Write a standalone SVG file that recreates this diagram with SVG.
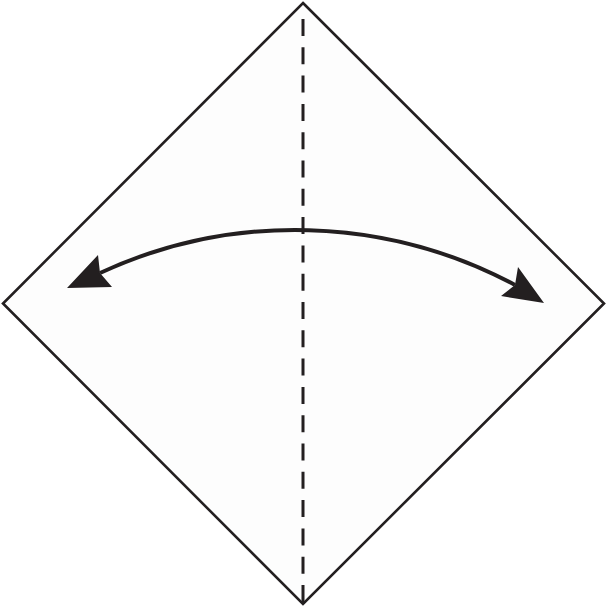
<svg xmlns="http://www.w3.org/2000/svg" width="606" height="606" viewBox="0 0 606 606">
<style>
.edge{stroke:#231f20;fill:none}
.head{fill:#231f20;stroke:none}
</style>
<rect width="606" height="606" fill="#ffffff"/>
<g id="paper">
<polygon points="303,3 604,303.5 303,604 3,303.5" fill="#fdfdfd" stroke="#231f20" stroke-width="2.6" stroke-linejoin="miter"/>
</g>
<g id="connectors">
<line class="edge" x1="303" y1="19" x2="303" y2="604" stroke-width="3" stroke-dasharray="17 11.3"/>
<path class="edge" d="M100,273 A465.2,465.2 0 0 1 515,285" stroke-width="4"/>
<polygon class="head" points="67,288 98,255 100,273 112,287"/>
<polygon class="head" points="544,303 518,267 515,285 501,296"/>
</g>
</svg>
